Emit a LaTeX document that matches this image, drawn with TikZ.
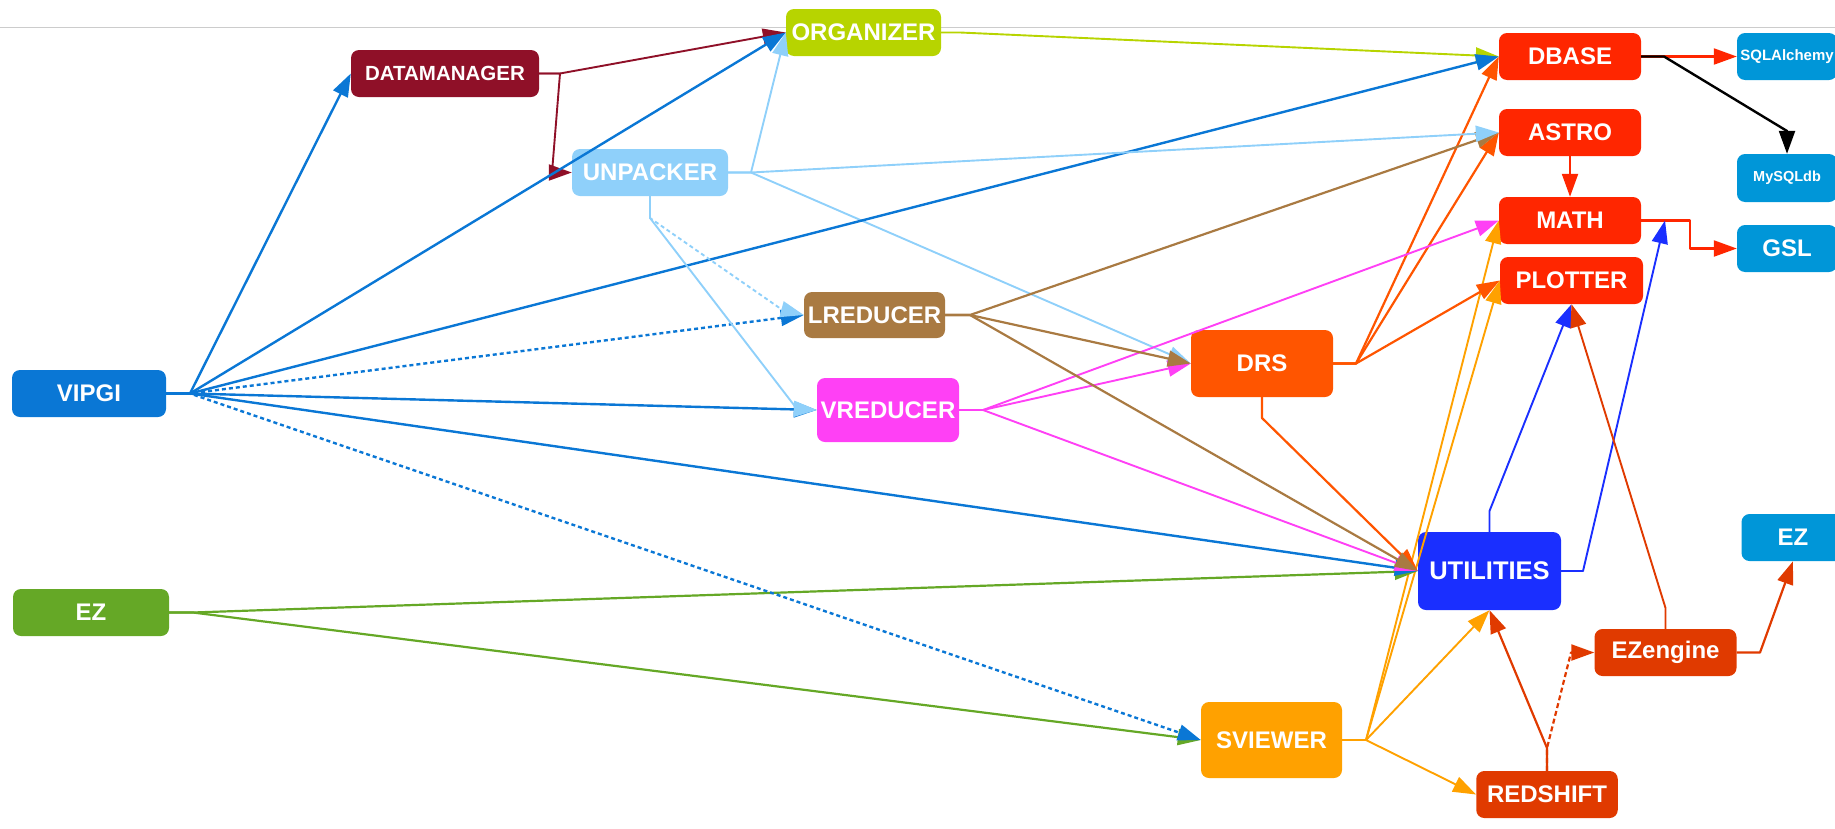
\documentclass[tikz,border=0pt]{standalone}
\usepackage{fontspec}
\setmainfont{Liberation Sans}
\usetikzlibrary{arrows.meta}
\definecolor{vipgiC}{HTML}{0A77D5}
\definecolor{dmC}{HTML}{8F1028}
\definecolor{orgC}{HTML}{B7D400}
\definecolor{unpC}{HTML}{8FD0FA}
\definecolor{lrC}{HTML}{A97A42}
\definecolor{vrC}{HTML}{FF40F5}
\definecolor{drsC}{HTML}{FF5500}
\definecolor{redC}{HTML}{FF2600}
\definecolor{libC}{HTML}{0096D8}
\definecolor{utilC}{HTML}{1A2FFF}
\definecolor{ezeC}{HTML}{E03A00}
\definecolor{svC}{HTML}{FFA100}
\definecolor{ezC}{HTML}{65A826}
\begin{document}
\begin{tikzpicture}[x=1pt,y=-1pt,
  box/.style={rectangle, rounded corners=8pt, draw=none, fill=#1, text=white,
    font=\bfseries\fontsize{24}{24}\selectfont, inner sep=0pt,
    minimum width=142pt, minimum height=47pt},
  edge/.style={draw=#1, line width=2.2pt, line join=round,
    -{Triangle[length=23pt,width=16pt]}},
  thin/.style={line width=1.9pt},
  dotline/.style={dash pattern=on 4pt off 3pt},
]
\useasboundingbox (0,0) rectangle (1835,828);
\draw[black!20, line width=1pt] (0,27) -- (1835,27);

% nodes
\node[box=vipgiC, minimum width=154pt] (vipgi) at (89,393.5) {VIPGI};
\node[box=ezC, minimum width=156pt] (ezl) at (91,612.5) {EZ};
\node[box=dmC, minimum width=188pt, font=\bfseries\fontsize{20.5}{20.5}\selectfont] (dm) at (445,73.5) {DATAMANAGER};
\node[box=orgC, minimum width=155pt] (org) at (863.5,32.5) {ORGANIZER};
\node[box=unpC, minimum width=156pt] (unp) at (650,172.5) {UNPACKER};
\node[box=lrC, minimum width=141pt, minimum height=46pt] (lr) at (874.5,315) {LREDUCER};
\node[box=vrC, minimum height=64pt] (vr) at (888,410) {VREDUCER};
\node[box=drsC, minimum height=67pt] (drs) at (1262,363.5) {DRS};
\node[box=redC] (dbase) at (1570,56.5) {DBASE};
\node[box=redC] (astro) at (1570,132.5) {ASTRO};
\node[box=redC] (math) at (1570,220.5) {MATH};
\node[box=redC, minimum width=143pt] (plot) at (1571.5,280.5) {PLOTTER};
\node[box=libC, minimum width=100pt, font=\bfseries\fontsize{15}{15}\selectfont] (sqla) at (1787,56.5) {SQLAlchemy};
\node[box=libC, minimum width=100pt, minimum height=48pt, font=\bfseries\fontsize{14.5}{14.5}\selectfont] (mysql) at (1787,178) {MySQLdb};
\node[box=libC, minimum width=100pt] (gsl) at (1787,248.5) {GSL};
\node[box=libC, minimum width=103pt] (ezr) at (1793,537.5) {EZ};
\node[box=utilC, minimum width=143pt, minimum height=78pt, font=\bfseries\fontsize{25.5}{25.5}\selectfont] (util) at (1489.5,571) {UTILITIES};
\node[box=ezeC] (eze) at (1665.5,652.5) {EZengine};
\node[box=svC, minimum width=141pt, minimum height=76pt] (sv) at (1271.5,740) {SVIEWER};
\node[box=ezeC, minimum width=141.5pt] (rs) at (1547,794.5) {REDSHIFT};

% stub coordinates
\coordinate (vipgi-o) at (190,393.5);
\coordinate (ezl-o) at (193,612.5);
\coordinate (dm-o) at (560,73.5);
\coordinate (dm-d) at (552,172.5);
\coordinate (unp-o) at (751,172.5);
\coordinate (unp-s) at (650,218);
\coordinate (vr-in) at (797,409);
\coordinate (lr-in) at (781,309);
\coordinate (org-o) at (960,32.5);
\coordinate (lr-o) at (970,315);
\coordinate (vr-o) at (983,410);
\coordinate (drs-o) at (1356,363.5);
\coordinate (drs-s) at (1262,418);
\coordinate (sv-o) at (1366,740);
\coordinate (util-n) at (1489.5,511);
\coordinate (util-o) at (1583,571);
\coordinate (math-o) at (1665,220.5);
\coordinate (math-c) at (1690,220.5);
\coordinate (dbase-o) at (1664,56.5);
\coordinate (mysql-n) at (1787,131);
\coordinate (rs-n) at (1547,748);
\coordinate (rs-d) at (1571,652.5);
\coordinate (eze-n) at (1665.5,608);
\coordinate (eze-o) at (1760,652.5);

% edges (drawing order matters for visible arrow heads)
\draw[edge=svC, thin] (sv.east) -- (sv-o) -- (math.west);
\draw[edge=svC, thin] (sv.east) -- (sv-o) -- (plot.west);
\draw[edge=svC, thin] (sv.east) -- (sv-o) -- (util.south);
\draw[edge=svC, thin] (sv.east) -- (sv-o) -- (rs.west);

\draw[edge=drsC] (drs.east) -- (drs-o) -- (dbase.west);
\draw[edge=drsC] (drs.east) -- (drs-o) -- (astro.west);
\draw[edge=drsC] (drs.east) -- (drs-o) -- (plot.west);
\draw[edge=drsC] (drs.south) -- (drs-s) -- (util.west);

\draw[edge=orgC, thin] (org.east) -- (org-o) -- (dbase.west);

\draw[edge=dmC, thin] (dm.east) -- (dm-o) -- (org.west);
\draw[edge=dmC, thin] (dm.east) -- (dm-o) -- (dm-d) -- (unp.west);

\draw[edge=unpC, thin] (unp.east) -- (unp-o) -- (org.west);
\draw[edge=unpC, thin] (unp.east) -- (unp-o) -- (drs.west);

\draw[edge=ezC] (ezl.east) -- (ezl-o) -- (util.west);
\draw[edge=ezC] (ezl.east) -- (ezl-o) -- (sv.west);

\draw[edge=vipgiC, line width=2.4pt] (vipgi.east) -- (vipgi-o) -- (dm.west);
\draw[edge=vipgiC, line width=2.4pt] (vipgi.east) -- (vipgi-o) -- (org.west);
\draw[edge=vipgiC, line width=2.4pt] (vipgi.east) -- (vipgi-o) -- (dbase.west);
\draw[edge=vipgiC, line width=2.4pt, dotline] (vipgi.east) -- (vipgi-o) -- (lr.west);
\draw[edge=vipgiC, line width=2.4pt] (vipgi.east) -- (vipgi-o) -- (vr.west);
\draw[edge=vipgiC, line width=2.4pt] (vipgi.east) -- (vipgi-o) -- (util.west);
\draw[edge=vipgiC, line width=2.4pt, dotline] (vipgi.east) -- (vipgi-o) -- (sv.west);

\draw[edge=unpC, thin, dotline] (unp.south) -- (unp-s) -- (lr-in) -- (lr.west);
\draw[edge=unpC, thin] (unp.south) -- (unp-s) -- (vr-in) -- (vr.west);

\draw[edge=vrC, thin] (vr.east) -- (vr-o) -- (math.west);
\draw[edge=vrC, thin] (vr.east) -- (vr-o) -- (drs.west);
\draw[edge=vrC, thin] (vr.east) -- (vr-o) -- (util.west);

\draw[edge=lrC] (lr.east) -- (lr-o) -- (astro.west);
\draw[edge=lrC] (lr.east) -- (lr-o) -- (drs.west);
\draw[edge=lrC] (lr.east) -- (lr-o) -- (util.west);

\draw[edge=unpC, thin] (unp.east) -- (unp-o) -- (astro.west);

\draw[edge=redC] (astro.south) -- (math.north);
\draw[edge=redC] (math.east) -- (math-c) |- (gsl.west);
\draw[edge=redC] (dbase.east) -- (dbase-o) -- (sqla.west);
\draw[edge=black, line width=2.4pt] (dbase.east) -- (dbase-o) -- (mysql-n) -- (mysql.north);

\draw[edge=utilC, thin] (util.north) -- (util-n) -- (plot.south);
\draw[edge=utilC, thin] (util.east) -- (util-o) -- (math-o);

\draw[edge=ezeC] (rs.north) -- (rs-n) -- (util.south);
\draw[edge=ezeC, dash pattern=on 5pt off 3pt] (rs.north) -- (rs-n) -- (rs-d) -- (eze.west);

\draw[edge=ezeC, thin] (eze.north) -- (eze-n) -- (plot.south);
\draw[edge=ezeC] (eze.east) -- (eze-o) -- (ezr.south);
\end{tikzpicture}
\end{document}
